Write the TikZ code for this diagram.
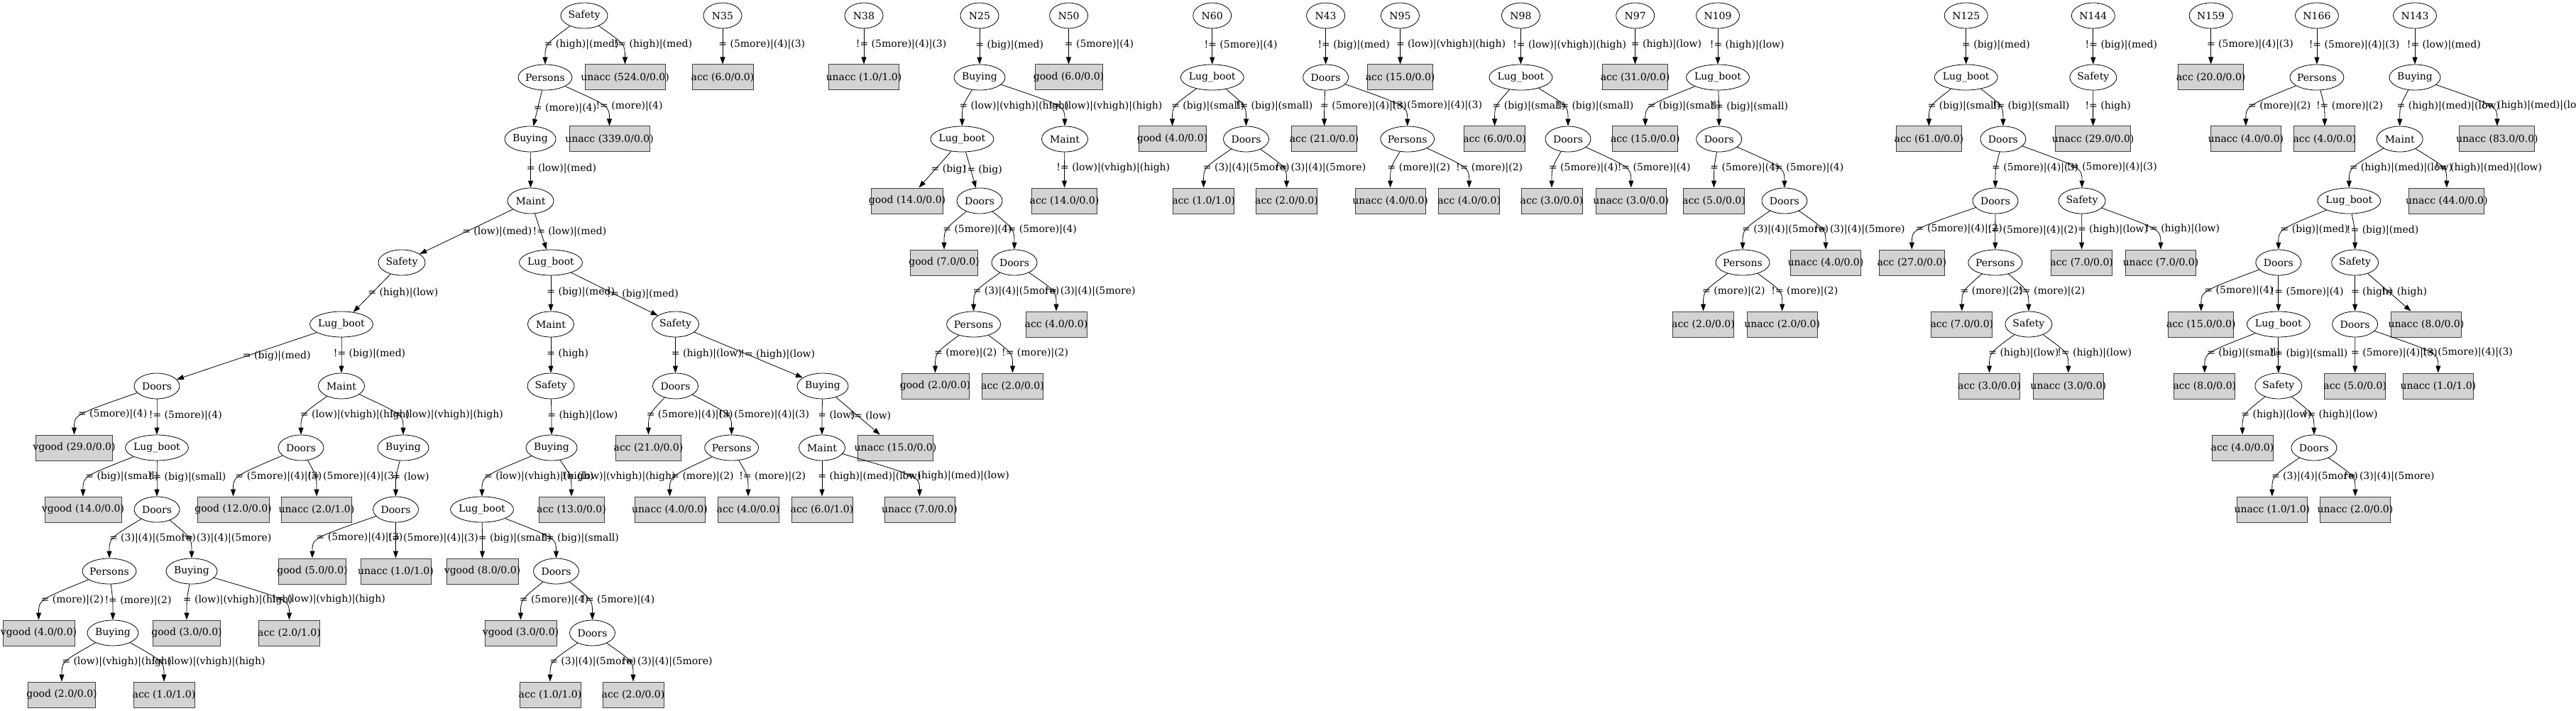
\documentclass[tikz,border=0pt]{standalone}
\usepackage{fontspec}
\setmainfont{DejaVu Serif}
\usetikzlibrary{arrows.meta,shapes.geometric,calc}
\definecolor{kasten}{HTML}{D3D3D3}
% Knoten: Name, x, Ebene, Text, Breite
\newcommand{\knoten}[5]{\node[attr, minimum width=#5pt] (#1) at (#2,#3) {\makebox[0pt]{#4}};}
\newcommand{\blatt}[5]{\node[blatt] (#1) at (#2,#3) {\makebox[#5pt]{#4}};}
% Kanten
\newcommand{\kante}[4][gleich]{\draw[pfeil] (#2) .. controls ($(#3.north)+(0pt,28pt)$) .. (#3) node[midway,#1] {#4};}
\newcommand{\gerade}[4][gleich]{\draw[pfeil] (#2) -- (#3) node[midway,#1] {#4};}
\begin{document}
\begin{tikzpicture}[x=1pt, y=-87pt,
  every node/.style={font=\fontsize{14pt}{17pt}\selectfont},
  attr/.style={draw, ellipse, minimum height=36pt, inner sep=0pt, line width=0.8pt},
  blatt/.style={draw=black!75, fill=kasten, rectangle, minimum height=36pt, inner sep=0pt, line width=1pt},
  pfeil/.style={-{Triangle[length=10pt,width=7pt]}, line width=0.8pt},
  gleich/.style={anchor=west, xshift=-6pt, inner sep=0pt},
  ungleich/.style={anchor=west, xshift=-11.5pt, inner sep=0pt}]
\useasboundingbox (0,-0.2529) rectangle (3629,11.2529);
%Baum Safety
\knoten{a0}{823}{0}{Safety}{66}
\blatt{b0}{880.5}{1}{unacc (524.0/0.0)}{113}
\knoten{a1}{768}{1}{Persons}{76}
\knoten{a2}{747}{2}{Buying}{72}
\blatt{b1}{858.5}{2}{unacc (339.0/0.0)}{113}
\knoten{a3}{747.5}{3}{Maint}{65}
\knoten{a4}{566}{4}{Safety}{66}
\knoten{a5}{776}{4}{Lug\_boot}{89}
\knoten{a6}{481}{5}{Lug\_boot}{89}
\knoten{a17}{776}{5}{Maint}{65}
\knoten{a18}{951.5}{5}{Safety}{66}
\knoten{a7}{221}{6}{Doors}{64}
\knoten{a8}{481}{6}{Maint}{65}
\knoten{a19}{776}{6}{Safety}{66}
\knoten{a24}{951.5}{6}{Doors}{64}
\knoten{a25}{1159}{6}{Buying}{72}
\blatt{b2}{104.5}{7}{vgood (29.0/0.0)}{108}
\knoten{a9}{221}{7}{Lug\_boot}{89}
\knoten{a14}{424}{7}{Doors}{64}
\knoten{a15}{568}{7}{Buying}{72}
\knoten{a20}{777}{7}{Buying}{72}
\blatt{b3}{913.5}{7}{acc (21.0/0.0)}{92}
\knoten{a26}{1030.6}{7}{Persons}{76}
\knoten{a27}{1158}{7}{Maint}{65}
\blatt{b4}{1261.5}{7}{unacc (15.0/0.0)}{106}
\blatt{b5}{117}{8}{vgood (14.0/0.0)}{108}
\knoten{a10}{221}{8}{Doors}{64}
\blatt{b6}{328.5}{8}{good (12.0/0.0)}{101}
\blatt{b7}{446}{8}{unacc (2.0/1.0)}{99}
\knoten{a16}{557.5}{8}{Doors}{64}
\knoten{a21}{679}{8}{Lug\_boot}{89}
\blatt{b8}{805}{8}{acc (13.0/0.0)}{92}
\blatt{b9}{943.5}{8}{unacc (4.0/0.0)}{99}
\blatt{b10}{1054}{8}{acc (4.0/0.0)}{86}
\blatt{b11}{1158}{8}{acc (6.0/1.0)}{86}
\blatt{b12}{1295.5}{8}{unacc (7.0/0.0)}{99}
\knoten{a11}{154}{9}{Persons}{76}
\knoten{a12}{270}{9}{Buying}{72}
\blatt{b13}{440}{9}{good (5.0/0.0)}{95}
\blatt{b14}{557.5}{9}{unacc (1.0/1.0)}{99}
\blatt{b15}{679.5}{9}{vgood (8.0/0.0)}{101}
\knoten{a22}{783.5}{9}{Doors}{64}
\blatt{b16}{54.5}{10}{vgood (4.0/0.0)}{101}
\knoten{a13}{159}{10}{Buying}{72}
\blatt{b17}{263}{10}{good (3.0/0.0)}{95}
\blatt{b18}{407.5}{10}{acc (2.0/1.0)}{86}
\blatt{b19}{733.5}{10}{vgood (3.0/0.0)}{101}
\knoten{a23}{834.5}{10}{Doors}{64}
\blatt{b20}{87}{11}{good (2.0/0.0)}{95}
\blatt{b21}{231}{11}{acc (1.0/1.0)}{86}
\blatt{b22}{775}{11}{acc (1.0/1.0)}{86}
\blatt{b23}{892}{11}{acc (2.0/0.0)}{86}
\kante{a0}{a1}{= (high)|(med)}
\kante[ungleich]{a0}{b0}{!= (high)|(med)}
\gerade{a1}{a2}{= (more)|(4)}
\kante[ungleich]{a1}{b1}{!= (more)|(4)}
\kante{a2}{a3}{= (low)|(med)}
\gerade{a3}{a4}{= (low)|(med)}
\gerade[ungleich]{a3}{a5}{!= (low)|(med)}
\gerade{a4}{a6}{= (high)|(low)}
\gerade{a6}{a7}{= (big)|(med)}
\kante[ungleich]{a6}{a8}{!= (big)|(med)}
\kante{a7}{b2}{= (5more)|(4)}
\kante[ungleich]{a7}{a9}{!= (5more)|(4)}
\kante{a9}{b5}{= (big)|(small)}
\kante[ungleich]{a9}{a10}{!= (big)|(small)}
\kante{a10}{a11}{= (3)|(4)|(5more)}
\kante[ungleich]{a10}{a12}{!= (3)|(4)|(5more)}
\kante{a11}{b16}{= (more)|(2)}
\kante[ungleich]{a11}{a13}{!= (more)|(2)}
\kante{a13}{b20}{= (low)|(vhigh)|(high)}
\kante[ungleich]{a13}{b21}{!= (low)|(vhigh)|(high)}
\kante{a12}{b17}{= (low)|(vhigh)|(high)}
\kante[ungleich]{a12}{b18}{!= (low)|(vhigh)|(high)}
\kante{a8}{a14}{= (low)|(vhigh)|(high)}
\kante[ungleich]{a8}{a15}{!= (low)|(vhigh)|(high)}
\kante{a14}{b6}{= (5more)|(4)|(3)}
\kante[ungleich]{a14}{b7}{!= (5more)|(4)|(3)}
\kante{a15}{a16}{= (low)}
\kante{a16}{b13}{= (5more)|(4)|(3)}
\kante[ungleich]{a16}{b14}{!= (5more)|(4)|(3)}
\kante{a5}{a17}{= (big)|(med)}
\gerade[ungleich]{a5}{a18}{!= (big)|(med)}
\kante{a17}{a19}{= (high)}
\kante{a19}{a20}{= (high)|(low)}
\kante{a20}{a21}{= (low)|(vhigh)|(high)}
\kante[ungleich]{a20}{b8}{!= (low)|(vhigh)|(high)}
\kante{a21}{b15}{= (big)|(small)}
\kante[ungleich]{a21}{a22}{!= (big)|(small)}
\kante{a22}{b19}{= (5more)|(4)}
\kante[ungleich]{a22}{a23}{!= (5more)|(4)}
\kante{a23}{b22}{= (3)|(4)|(5more)}
\kante[ungleich]{a23}{b23}{!= (3)|(4)|(5more)}
\kante{a18}{a24}{= (high)|(low)}
\gerade[ungleich]{a18}{a25}{!= (high)|(low)}
\kante{a24}{b3}{= (5more)|(4)|(3)}
\kante[ungleich]{a24}{a26}{!= (5more)|(4)|(3)}
\kante{a26}{b9}{= (more)|(2)}
\kante[ungleich]{a26}{b10}{!= (more)|(2)}
\kante{a25}{a27}{= (low)}
\gerade[ungleich]{a25}{b4}{!= (low)}
\kante{a27}{b11}{= (high)|(med)|(low)}
\kante[ungleich]{a27}{b12}{!= (high)|(med)|(low)}
%N35, N38
\knoten{n35}{1018}{0}{N35}{54}
\blatt{c1}{1018}{1}{acc (6.0/0.0)}{86}
\kante{n35}{c1}{= (5more)|(4)|(3)}
\knoten{n38}{1217}{0}{N38}{54}
\blatt{c2}{1217}{1}{unacc (1.0/1.0)}{99}
\kante[ungleich]{n38}{c2}{!= (5more)|(4)|(3)}
%N25
\knoten{n25}{1380}{0}{N25}{54}
\knoten{d1}{1380}{1}{Buying}{72}
\knoten{d2}{1355.4}{2}{Lug\_boot}{89}
\knoten{d3}{1500}{2}{Maint}{65}
\blatt{c3}{1278}{3}{good (14.0/0.0)}{101}
\knoten{d4}{1380}{3}{Doors}{64}
\blatt{c4}{1499.5}{3}{acc (14.0/0.0)}{92}
\blatt{c5}{1330}{4}{good (7.0/0.0)}{95}
\knoten{d5}{1429}{4}{Doors}{64}
\knoten{d6}{1371.6}{5}{Persons}{76}
\blatt{c6}{1488}{5}{acc (4.0/0.0)}{86}
\blatt{c7}{1317.5}{6}{good (2.0/0.0)}{95}
\blatt{c8}{1426.5}{6}{acc (2.0/0.0)}{86}
\kante{n25}{d1}{= (big)|(med)}
\kante{d1}{d2}{= (low)|(vhigh)|(high)}
\kante[ungleich]{d1}{d3}{!= (low)|(vhigh)|(high)}
\gerade{d2}{c3}{= (big)}
\gerade[ungleich]{d2}{d4}{!= (big)}
\kante[ungleich]{d3}{c4}{!= (low)|(vhigh)|(high)}
\kante{d4}{c5}{= (5more)|(4)}
\kante[ungleich]{d4}{d5}{!= (5more)|(4)}
\kante{d5}{d6}{= (3)|(4)|(5more)}
\kante[ungleich]{d5}{c6}{!= (3)|(4)|(5more)}
\kante{d6}{c7}{= (more)|(2)}
\kante[ungleich]{d6}{c8}{!= (more)|(2)}
%N50, N60
\knoten{n50}{1505.6}{0}{N50}{54}
\blatt{c9}{1505.5}{1}{good (6.0/0.0)}{95}
\kante{n50}{c9}{= (5more)|(4)}
\knoten{n60}{1707.7}{0}{N60}{54}
\knoten{e1}{1707.7}{1}{Lug\_boot}{89}
\blatt{c10}{1651.5}{2}{good (4.0/0.0)}{95}
\knoten{e2}{1755.5}{2}{Doors}{64}
\blatt{c11}{1695.6}{3}{acc (1.0/1.0)}{86}
\blatt{c12}{1812.5}{3}{acc (2.0/0.0)}{86}
\kante[ungleich]{n60}{e1}{!= (5more)|(4)}
\kante{e1}{c10}{= (big)|(small)}
\kante[ungleich]{e1}{e2}{!= (big)|(small)}
\kante{e2}{c11}{= (3)|(4)|(5more)}
\kante[ungleich]{e2}{c12}{!= (3)|(4)|(5more)}
%N43, N95
\knoten{n43}{1867.6}{0}{N43}{54}
\knoten{f1}{1867.6}{1}{Doors}{64}
\blatt{c13}{1865.6}{2}{acc (21.0/0.0)}{92}
\knoten{f2}{1982.7}{2}{Persons}{76}
\blatt{c14}{1958.6}{3}{unacc (4.0/0.0)}{99}
\blatt{c15}{2069.7}{3}{acc (4.0/0.0)}{86}
\kante[ungleich]{n43}{f1}{!= (big)|(med)}
\kante{f1}{c13}{= (5more)|(4)|(3)}
\kante[ungleich]{f1}{f2}{!= (5more)|(4)|(3)}
\kante{f2}{c14}{= (more)|(2)}
\kante[ungleich]{f2}{c15}{!= (more)|(2)}
\knoten{n95}{1972.4}{0}{N95}{54}
\blatt{c16}{1972.6}{1}{acc (15.0/0.0)}{92}
\kante{n95}{c16}{= (low)|(vhigh)|(high)}
%N98, N97
\knoten{n98}{2142.4}{0}{N98}{54}
\knoten{g1}{2142.4}{1}{Lug\_boot}{89}
\blatt{c17}{2105.6}{2}{acc (6.0/0.0)}{86}
\knoten{g2}{2209}{2}{Doors}{64}
\blatt{c18}{2186}{3}{acc (3.0/0.0)}{86}
\blatt{c19}{2297.8}{3}{unacc (3.0/0.0)}{99}
\kante[ungleich]{n98}{g1}{!= (low)|(vhigh)|(high)}
\kante{g1}{c17}{= (big)|(small)}
\kante[ungleich]{g1}{g2}{!= (big)|(small)}
\kante{g2}{c18}{= (5more)|(4)}
\kante[ungleich]{g2}{c19}{!= (5more)|(4)}
\knoten{n97}{2303.7}{0}{N97}{54}
\blatt{c20}{2303.5}{1}{acc (31.0/0.0)}{92}
\kante{n97}{c20}{= (high)|(low)}
%N109
\knoten{n109}{2420}{0}{N109}{61}
\knoten{h1}{2420}{1}{Lug\_boot}{89}
\blatt{c21}{2317.8}{2}{acc (15.0/0.0)}{92}
\knoten{h2}{2421.7}{2}{Doors}{64}
\blatt{c22}{2414.5}{3}{acc (5.0/0.0)}{86}
\knoten{h3}{2513.9}{3}{Doors}{64}
\knoten{h4}{2455}{4}{Persons}{76}
\blatt{c23}{2572}{4}{unacc (4.0/0.0)}{99}
\blatt{c24}{2399.5}{5}{acc (2.0/0.0)}{86}
\blatt{c25}{2510.7}{5}{unacc (2.0/0.0)}{99}
\kante[ungleich]{n109}{h1}{!= (high)|(low)}
\kante{h1}{c21}{= (big)|(small)}
\kante[ungleich]{h1}{h2}{!= (big)|(small)}
\kante{h2}{c22}{= (5more)|(4)}
\kante[ungleich]{h2}{h3}{!= (5more)|(4)}
\kante{h3}{h4}{= (3)|(4)|(5more)}
\kante[ungleich]{h3}{c23}{!= (3)|(4)|(5more)}
\kante{h4}{c24}{= (more)|(2)}
\kante[ungleich]{h4}{c25}{!= (more)|(2)}
%N125
\knoten{n125}{2769.7}{0}{N125}{61}
\knoten{i1}{2769.7}{1}{Lug\_boot}{89}
\blatt{c26}{2717.4}{2}{acc (61.0/0.0)}{92}
\knoten{i2}{2821.9}{2}{Doors}{64}
\knoten{i3}{2811}{3}{Doors}{64}
\knoten{i4}{2933}{3}{Safety}{66}
\blatt{c27}{2693.3}{4}{acc (27.0/0.0)}{92}
\knoten{i5}{2810.8}{4}{Persons}{76}
\blatt{c28}{2932.6}{4}{acc (7.0/0.0)}{86}
\blatt{c29}{3043.9}{4}{unacc (7.0/0.0)}{99}
\blatt{c30}{2763.8}{5}{acc (7.0/0.0)}{86}
\knoten{i6}{2857.9}{5}{Safety}{66}
\blatt{c31}{2802.5}{6}{acc (3.0/0.0)}{86}
\blatt{c32}{2913.8}{6}{unacc (3.0/0.0)}{99}
\kante{n125}{i1}{= (big)|(med)}
\kante{i1}{c26}{= (big)|(small)}
\kante[ungleich]{i1}{i2}{!= (big)|(small)}
\kante{i2}{i3}{= (5more)|(4)|(3)}
\kante[ungleich]{i2}{i4}{!= (5more)|(4)|(3)}
\kante{i3}{c27}{= (5more)|(4)|(2)}
\kante[ungleich]{i3}{i5}{!= (5more)|(4)|(2)}
\kante{i4}{c28}{= (high)|(low)}
\kante[ungleich]{i4}{c29}{!= (high)|(low)}
\kante{i5}{c30}{= (more)|(2)}
\kante[ungleich]{i5}{i6}{!= (more)|(2)}
\kante{i6}{c31}{= (high)|(low)}
\kante[ungleich]{i6}{c32}{!= (high)|(low)}
%N144, N159, N166
\knoten{n144}{2948.8}{0}{N144}{61}
\knoten{j1}{2948.8}{1}{Safety}{66}
\blatt{c33}{2948.6}{2}{unacc (29.0/0.0)}{106}
\kante[ungleich]{n144}{j1}{!= (big)|(med)}
\kante[ungleich]{j1}{c33}{!= (high)}
\knoten{n159}{3114.6}{0}{N159}{61}
\blatt{c34}{3114.6}{1}{acc (20.0/0.0)}{92}
\kante{n159}{c34}{= (5more)|(4)|(3)}
\knoten{n166}{3263.9}{0}{N166}{61}
\knoten{k1}{3263.9}{1}{Persons}{76}
\blatt{c35}{3163.8}{2}{unacc (4.0/0.0)}{99}
\blatt{c36}{3274.9}{2}{acc (4.0/0.0)}{86}
\kante[ungleich]{n166}{k1}{!= (5more)|(4)|(3)}
\kante{k1}{c35}{= (more)|(2)}
\kante[ungleich]{k1}{c36}{!= (more)|(2)}
%N143
\knoten{n143}{3402}{0}{N143}{61}
\knoten{m1}{3402}{1}{Buying}{72}
\knoten{m2}{3380.7}{2}{Maint}{65}
\blatt{c37}{3517.9}{2}{unacc (83.0/0.0)}{106}
\knoten{m3}{3309.3}{3}{Lug\_boot}{89}
\blatt{c38}{3446.8}{3}{unacc (44.0/0.0)}{106}
\knoten{m4}{3209.8}{4}{Doors}{64}
\knoten{m5}{3317.6}{4}{Safety}{66}
\blatt{c39}{3100.8}{5}{acc (15.0/0.0)}{92}
\knoten{m6}{3209.8}{5}{Lug\_boot}{89}
\knoten{m7}{3317.6}{5}{Doors}{64}
\blatt{c40}{3417.9}{5}{unacc (8.0/0.0)}{99}
\blatt{c41}{3105.8}{6}{acc (8.0/0.0)}{86}
\knoten{m8}{3209.8}{6}{Safety}{66}
\blatt{c42}{3317.7}{6}{acc (5.0/0.0)}{86}
\blatt{c43}{3434.8}{6}{unacc (1.0/1.0)}{99}
\blatt{c44}{3159}{7}{acc (4.0/0.0)}{86}
\knoten{m9}{3259.9}{7}{Doors}{64}
\blatt{c45}{3200.8}{8}{unacc (1.0/1.0)}{99}
\blatt{c46}{3318}{8}{unacc (2.0/0.0)}{99}
\kante[ungleich]{n143}{m1}{!= (low)|(med)}
\kante{m1}{m2}{= (high)|(med)|(low)}
\kante[ungleich]{m1}{c37}{!= (high)|(med)|(low)}
\kante{m2}{m3}{= (high)|(med)|(low)}
\kante[ungleich]{m2}{c38}{!= (high)|(med)|(low)}
\kante{m3}{m4}{= (big)|(med)}
\kante[ungleich]{m3}{m5}{!= (big)|(med)}
\kante{m4}{c39}{= (5more)|(4)}
\kante[ungleich]{m4}{m6}{!= (5more)|(4)}
\kante{m5}{m7}{= (high)}
\gerade[ungleich]{m5}{c40}{!= (high)}
\kante{m6}{c41}{= (big)|(small)}
\kante[ungleich]{m6}{m8}{!= (big)|(small)}
\kante{m7}{c42}{= (5more)|(4)|(3)}
\kante[ungleich]{m7}{c43}{!= (5more)|(4)|(3)}
\kante{m8}{c44}{= (high)|(low)}
\kante[ungleich]{m8}{m9}{!= (high)|(low)}
\kante{m9}{c45}{= (3)|(4)|(5more)}
\kante[ungleich]{m9}{c46}{!= (3)|(4)|(5more)}
\end{tikzpicture}
\end{document}
